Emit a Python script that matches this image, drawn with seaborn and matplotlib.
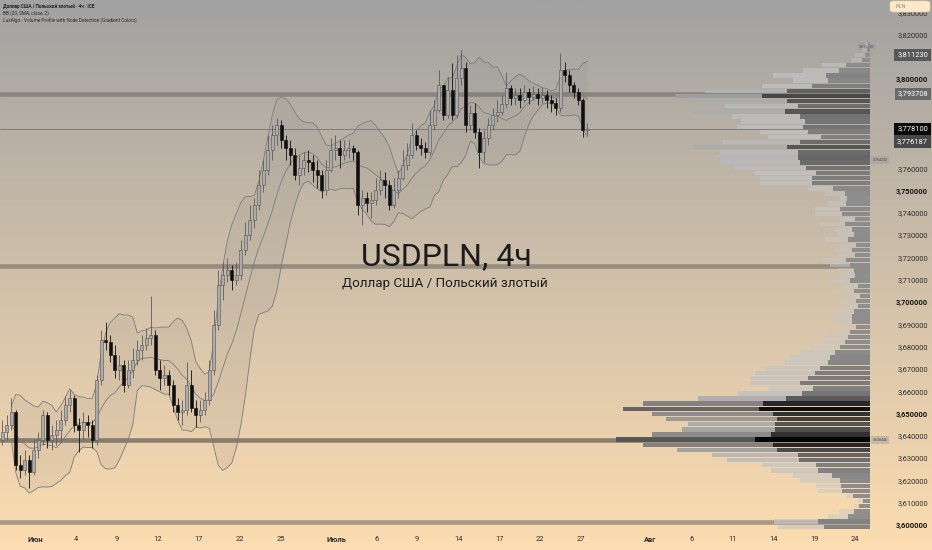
import numpy as np
import pandas as pd
import matplotlib
matplotlib.use("Agg")
import matplotlib.pyplot as plt
import seaborn as sns
from matplotlib.patches import FancyBboxPatch
from matplotlib.transforms import blended_transform_factory

sns.set_theme(style="white")
plt.rcParams['font.family'] = ['Roboto', 'DejaVu Sans']

# ---------------- data ----------------
first_open = 3.6386
close = [3.6422, 3.6453, 3.6511, 3.6274, 3.6251, 3.6296, 3.6242, 3.6341, 3.6386, 3.6498,
         3.6386, 3.6408, 3.6430, 3.6475, 3.6543, 3.6574, 3.6453, 3.6430, 3.6466, 3.6453,
         3.6386, 3.6655, 3.6834, 3.6825, 3.6767, 3.6700, 3.6722, 3.6632, 3.6700, 3.6744,
         3.6789, 3.6812, 3.6843, 3.6857, 3.6700, 3.6664, 3.6677, 3.6632, 3.6543, 3.6511,
         3.6520, 3.6632, 3.6529, 3.6498, 3.6520, 3.6565, 3.6700, 3.6901, 3.7081, 3.7126,
         3.7148, 3.7103, 3.7126, 3.7238, 3.7305, 3.7372, 3.7439, 3.7529, 3.7596, 3.7686,
         3.7753, 3.7798, 3.7731, 3.7695, 3.7664, 3.7574, 3.7605, 3.7641, 3.7632, 3.7596,
         3.7574, 3.7507, 3.7596, 3.7686, 3.7695, 3.7664, 3.7686, 3.7695, 3.7677, 3.7439,
         3.7471, 3.7448, 3.7462, 3.7507, 3.7552, 3.7529, 3.7439, 3.7507, 3.7561, 3.7619,
         3.7664, 3.7753, 3.7709, 3.7695, 3.7677, 3.7798, 3.7865, 3.7978, 3.7843, 3.7955,
         3.7843, 3.8009, 3.8054, 3.7798, 3.7852, 3.7767, 3.7677, 3.7740, 3.7798, 3.7843,
         3.7857, 3.7892, 3.7964, 3.7919, 3.7933, 3.7910, 3.7946, 3.7924, 3.7937, 3.7919,
         3.7933, 3.7910, 3.7897, 3.7874, 3.8045, 3.8022, 3.7978, 3.7946, 3.7910, 3.7776,
         3.7781]
high = [3.6475, 3.6498, 3.6574, 3.6520, 3.6318, 3.6341, 3.6318, 3.6386, 3.6422, 3.6520,
        3.6511, 3.6453, 3.6475, 3.6520, 3.6583, 3.6610, 3.6587, 3.6484, 3.6511, 3.6498,
        3.6475, 3.6677, 3.6879, 3.6915, 3.6857, 3.6812, 3.6767, 3.6744, 3.6744, 3.6798,
        3.6834, 3.6857, 3.6888, 3.7031, 3.6879, 3.6744, 3.6722, 3.6700, 3.6655, 3.6574,
        3.6565, 3.6735, 3.6700, 3.6565, 3.6565, 3.6601, 3.6744, 3.6969, 3.7148, 3.7184,
        3.7202, 3.7170, 3.7184, 3.7283, 3.7363, 3.7439, 3.7471, 3.7596, 3.7641, 3.7753,
        3.7798, 3.7830, 3.7821, 3.7753, 3.7731, 3.7695, 3.7664, 3.7677, 3.7686, 3.7664,
        3.7641, 3.7596, 3.7641, 3.7740, 3.7753, 3.7731, 3.7731, 3.7731, 3.7709, 3.7686,
        3.7507, 3.7498, 3.7498, 3.7561, 3.7596, 3.7587, 3.7552, 3.7561, 3.7596, 3.7686,
        3.7717, 3.7807, 3.7776, 3.7740, 3.7722, 3.7865, 3.7910, 3.8045, 3.7978, 3.8013,
        3.8076, 3.8112, 3.8135, 3.8081, 3.7888, 3.7897, 3.7785, 3.7776, 3.7830, 3.7874,
        3.7910, 3.7933, 3.8036, 3.7978, 3.7964, 3.7964, 3.7978, 3.7964, 3.7973, 3.7964,
        3.7969, 3.7955, 3.7933, 3.7919, 3.8121, 3.8081, 3.8045, 3.7991, 3.7964, 3.7919,
        3.7807]
low = [3.6363, 3.6386, 3.6430, 3.6251, 3.6215, 3.6229, 3.6170, 3.6229, 3.6305, 3.6363,
       3.6350, 3.6341, 3.6363, 3.6377, 3.6453, 3.6511, 3.6422, 3.6332, 3.6386, 3.6399,
       3.6350, 3.6363, 3.6632, 3.6789, 3.6735, 3.6664, 3.6655, 3.6601, 3.6619, 3.6664,
       3.6722, 3.6744, 3.6789, 3.6812, 3.6677, 3.6610, 3.6632, 3.6587, 3.6511, 3.6475,
       3.6453, 3.6498, 3.6511, 3.6444, 3.6466, 3.6498, 3.6543, 3.6677, 3.6879, 3.7013,
       3.7094, 3.7058, 3.7081, 3.7103, 3.7215, 3.7283, 3.7336, 3.7417, 3.7498, 3.7574,
       3.7641, 3.7709, 3.7695, 3.7641, 3.7619, 3.7552, 3.7529, 3.7574, 3.7587, 3.7543,
       3.7516, 3.7471, 3.7484, 3.7587, 3.7641, 3.7605, 3.7641, 3.7650, 3.7641, 3.7395,
       3.7350, 3.7408, 3.7381, 3.7439, 3.7484, 3.7471, 3.7417, 3.7426, 3.7471, 3.7552,
       3.7596, 3.7650, 3.7686, 3.7664, 3.7650, 3.7664, 3.7776, 3.7857, 3.7821, 3.7830,
       3.7821, 3.7830, 3.7978, 3.7767, 3.7776, 3.7740, 3.7605, 3.7632, 3.7709, 3.7776,
       3.7812, 3.7843, 3.7874, 3.7888, 3.7888, 3.7874, 3.7901, 3.7892, 3.7910, 3.7888,
       3.7897, 3.7874, 3.7857, 3.7843, 3.7857, 3.7991, 3.7946, 3.7919, 3.7888, 3.7744,
       3.7753]

# volume profile (relative volume per price row, bottom row first)
vp_bottom = 3.5985
vp_row = 0.0023
vp_total = [92, 96, 42, 31, 16, 12, 24, 52, 54, 70,
            77, 99, 108, 143, 158, 193, 227, 254, 218, 188,
            182, 204, 218, 247, 227, 172, 132, 100, 120, 120,
            115, 105, 85, 80, 70, 60, 50, 45, 40, 28,
            35, 38, 32, 25, 28, 22, 32, 25, 40, 30,
            32, 40, 48, 30, 35, 28, 45, 32, 35, 50,
            30, 55, 55, 42, 30, 45, 62, 110, 110, 115,
            136, 150, 156, 150, 177, 147, 102, 110, 133, 129,
            138, 177, 145, 178, 195, 165, 108, 77, 97, 67,
            48, 19, 15, 8, 5]
vp_node = [46, 52, 22, 16, 11, 7, 17, 28, 29, 30,
           38, 52, 54, 71, 72, 93, 97, 115, 99, 95,
           95, 93, 97, 111, 107, 84, 68, 57, 70, 62,
           55, 50, 42, 40, 35, 30, 25, 22, 20, 14,
           18, 18, 16, 12, 14, 10, 16, 12, 20, 15,
           16, 20, 24, 15, 18, 14, 22, 16, 18, 25,
           15, 28, 30, 24, 23, 25, 37, 58, 58, 54,
           64, 70, 72, 72, 83, 70, 49, 62, 67, 65,
           70, 85, 72, 83, 108, 83, 58, 42, 44, 31,
           24, 8, 5, 3, 2]

level_lines = [3.793708, 3.7166, 3.638446, 3.6018]
last_price = 3.778100
tag_text = ["3,811230", "3,793708", "3,778100", "3,776187"]
tag_color = ["#585858", "#6a6a6a", "#0a0a0a", "#484848"]
tag_y = [3.811230, 3.793708, 3.778100, 3.772300]   # display positions (stacked like the reference)

x_labels = ['Июн', '4', '9', '12', '17', '22', '25', 'Июль', '6', '9', '14', '17', '22', '27',
            'Авг', '6', '11', '14', '19', '24']
x_label_pos = [7.3, 16.4, 25.5, 34.6, 43.7, 52.8, 61.9, 74.2, 83.1, 92.2, 101.3, 110.4,
               119.5, 128.6, 143.9, 153.1, 162.2, 171.3, 180.4, 189.5]
month_labels = {'Июн', 'Июль', 'Авг'}

# ---------------- figure ----------------
W, H = 932, 550
fig = plt.figure(figsize=(W / 100, H / 100), dpi=100)

bg = fig.add_axes([0, 0, 1, 1], zorder=-10)
top_c = np.array([162, 162, 162]) / 255
bot_c = np.array([253, 221, 177]) / 255
t = np.linspace(0, 1, 256)[:, None]
grad = (top_c[None, :] * (1 - t) + bot_c[None, :] * t)[:, None, :]
bg.imshow(grad, aspect='auto', extent=[0, 1, 0, 1])
bg.set_axis_off()

plot_right = 870
ax = fig.add_axes([0, 18 / H, plot_right / W, 532 / H])
ax.patch.set_alpha(0)
xmin, xmax = -0.5, 192.8
ymin, ymax = 3.5973, 3.8359
ax.set_xlim(xmin, xmax)
ax.set_ylim(ymin, ymax)
for s in ax.spines.values():
    s.set_visible(False)

n = len(close)
idx = np.arange(n)
opens = [first_open] + close[:-1]
df = pd.DataFrame({'i': idx, 'open': opens, 'high': high, 'low': low, 'close': close})

# Bollinger bands
roll = df['close'].rolling(10, min_periods=3)
df['mid'] = roll.mean()
df['sd'] = roll.std(ddof=0)
df['up'] = df['mid'] + 2 * df['sd']
df['dn'] = df['mid'] - 2 * df['sd']
ax.fill_between(df['i'], df['dn'], df['up'], color='#808080', alpha=0.11, lw=0, zorder=1)
for col in ['up', 'mid', 'dn']:
    sns.lineplot(data=df, x='i', y=col, ax=ax, color='#7c7c7c', lw=0.6, legend=False, zorder=2)

# level bands
band_alpha = [0.38, 0.42, 0.6, 0.45]
for lv, a in zip(level_lines, band_alpha):
    ax.axhline(lv, color='#4a4a4a', lw=3.3, alpha=a, zorder=1.5)
ax.axhline(last_price, color='#6a6a6a', lw=0.6, alpha=0.8, zorder=1.6)

# candles
bw = 0.62
for _, r in df.iterrows():
    bull = r['close'] >= r['open']
    wc = '#5a5a5a' if bull else '#111111'
    ax.vlines(r['i'], r['low'], r['high'], color=wc, lw=0.6, zorder=3)
    b0 = min(r['open'], r['close'])
    bh = max(abs(r['close'] - r['open']), 0.0004)
    ax.bar(r['i'], bh, bottom=b0, width=bw,
           color='#ababab' if bull else '#0e0e0e',
           edgecolor='#555555' if bull else '#0e0e0e', lw=0.4, zorder=4)

ax.set_xlabel('')
ax.set_ylabel('')
ax.set_xticks(x_label_pos)
ax.set_xticklabels(x_labels)
ax.tick_params(axis='x', length=0, pad=3.2, labelsize=5.4, labelcolor='#2b2b2b')
for lab in ax.get_xticklabels():
    if lab.get_text() in month_labels:
        lab.set_fontweight('bold')
ax.set_yticks([])

# volume profile on twin axis (units = px from right edge)
axp = ax.twiny()
axp.patch.set_alpha(0)
axp.set_xlim(plot_right, 0)
axp.set_ylim(ymin, ymax)
for s in axp.spines.values():
    s.set_visible(False)
axp.set_xticks([])
vt = np.array(vp_total, float)
vn = np.array(vp_node, float)
centers = vp_bottom + vp_row * (np.arange(len(vt)) + 0.5)
tt = vt / vt.max()
g_out = 0.78 - 0.45 * tt ** 4
g_in = 0.55 - 0.55 * tt ** 2.5
a_out = 0.35 + 0.6 * np.minimum(1, tt * 1.5)
for c, L, N, go, gi, a in zip(centers, vt, vn, g_out, g_in, a_out):
    axp.barh(c, L, left=0, height=vp_row * 0.86, color=(go, go, go, a), lw=0, zorder=5)
    axp.barh(c, N, left=0, height=vp_row * 0.86, color=(gi, gi, gi, 0.95), lw=0, zorder=6)

# right price scale
tr = blended_transform_factory(ax.transAxes, ax.transData)
xr = 928 / plot_right
for k in range(0, 24):
    v = 3.60 + 0.01 * k
    if min(abs(v - ty) for ty in tag_y) < 0.0045:
        continue
    bold = (k % 5 == 0)
    ax.text(xr, v, f"{v:.6f}".replace('.', ','), transform=tr, ha='right', va='center',
            fontsize=5.4, color='#141414' if bold else '#2e2e2e',
            fontweight='bold' if bold else 'normal', clip_on=False, zorder=10)
for txt, fc, ty in zip(tag_text, tag_color, tag_y):
    ax.text(xr, ty, txt, transform=tr, ha='right', va='center', fontsize=5.4, color='white',
            clip_on=False, zorder=12,
            bbox=dict(boxstyle='square,pad=0.38', fc=fc, ec='none'))

# tiny in-chart labels
for txt, xpx, v in [("3.811230", 867, 3.8150), ("3.764232", 880, 3.7641), ("3.638446", 880, 3.6386)]:
    ax.text(xpx / plot_right, v, txt, transform=tr, ha='center', va='center', fontsize=2.6,
            color='#4a4a4a', clip_on=False, zorder=12,
            bbox=dict(boxstyle='square,pad=0.5', fc='#9c9c9c', ec='none', alpha=0.45))

# PLN box
fig.patches.append(FancyBboxPatch((890 / W, 538 / H), 40 / W, 11 / H,
                                  boxstyle='round,pad=0,rounding_size=0.004',
                                  transform=fig.transFigure, fc='#fde8c9', ec='#e6cfae', lw=0.5))
fig.text(895 / W, 543.5 / H, 'PLN', fontsize=4, color='#8a8a8a', ha='left', va='center')

# header
fig.text(3 / W, 1 - 6.5 / H, 'Доллар США / Польский злотый · 4ч · ICE', fontsize=3.4,
         fontweight='bold', color='#222222', ha='left', va='center')
fig.text(3 / W, 1 - 13.5 / H, 'BB (20, SMA, close, 2)', fontsize=3.4, color='#2a2a2a',
         ha='left', va='center')
fig.text(3 / W, 1 - 20.5 / H, 'LuxAlgo - Volume Profile with Node Detection (Gradient Colors)',
         fontsize=3.4, color='#2a2a2a', ha='left', va='center')

# watermark title
fig.text(446 / W, 1 - 257 / H, 'USDPLN, 4ч', fontsize=23, color='#1c1c1c', ha='center', va='center')
fig.text(445 / W, 1 - 283 / H, 'Доллар США / Польский злотый', fontsize=9.6, color='#1c1c1c',
         ha='center', va='center')

fig.savefig('out.png', dpi=100)
